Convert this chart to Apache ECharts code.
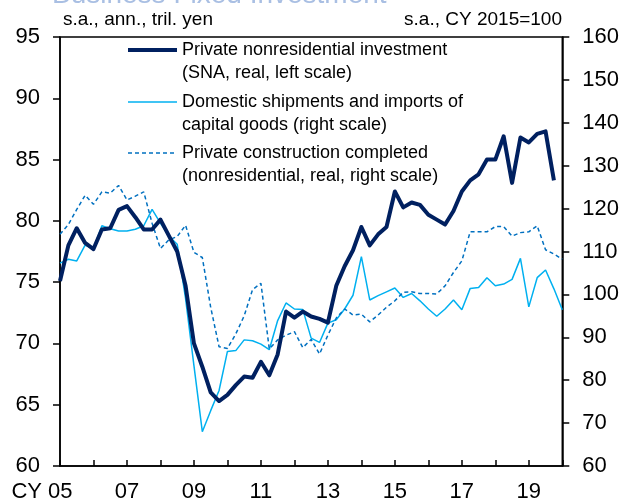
<!DOCTYPE html>
<html>
<head>
<meta charset="utf-8">
<script src="https://cdn.jsdelivr.net/npm/echarts@6/dist/echarts.min.js"></script>
<style>
html,body{margin:0;padding:0;background:#fff;}
#chart{width:622px;height:503px;}
</style>
</head>
<body>
<div id="chart"></div>
<script>
// Quarterly categories, 2005Q1 .. 2020Q1
const quarters = [
  '2005Q1','2005Q2','2005Q3','2005Q4',
  '2006Q1','2006Q2','2006Q3','2006Q4',
  '2007Q1','2007Q2','2007Q3','2007Q4',
  '2008Q1','2008Q2','2008Q3','2008Q4',
  '2009Q1','2009Q2','2009Q3','2009Q4',
  '2010Q1','2010Q2','2010Q3','2010Q4',
  '2011Q1','2011Q2','2011Q3','2011Q4',
  '2012Q1','2012Q2','2012Q3','2012Q4',
  '2013Q1','2013Q2','2013Q3','2013Q4',
  '2014Q1','2014Q2','2014Q3','2014Q4',
  '2015Q1','2015Q2','2015Q3','2015Q4',
  '2016Q1','2016Q2','2016Q3','2016Q4',
  '2017Q1','2017Q2','2017Q3','2017Q4',
  '2018Q1','2018Q2','2018Q3','2018Q4',
  '2019Q1','2019Q2','2019Q3','2019Q4',
  '2020Q1'
];

// Tick labels shown every 8 quarters (every 2 years)
const xTickLabels = ['CY 05','07','09','11','13','15','17','19'];

// Private nonresidential investment (SNA, real, left scale), tril. yen
const nonresInvestment = [
  75.1, 78.0, 79.4, 78.2,
  77.7, 79.3, 79.4, 80.9,
  81.2, 80.3, 79.3, 79.3,
  80.1, 78.8, 77.5, 74.7,
  70.0, 68.1, 66.0, 65.3,
  65.8, 66.6, 67.3, 67.2,
  68.5, 67.4, 69.1, 72.6,
  72.1, 72.6, 72.2, 72.0,
  71.7, 74.7, 76.3, 77.6,
  79.5, 78.0, 78.9, 79.5,
  82.4, 81.1, 81.5, 81.3,
  80.5, 80.1, 79.7, 80.8,
  82.4, 83.3, 83.8, 85.0,
  85.0, 86.9, 83.1, 86.8,
  86.4, 87.1, 87.3, 83.3
];

// Domestic shipments and imports of capital goods (right scale), CY2015=100
const capitalGoods = [
  107.3, 108.2, 107.8, 111.5,
  110.7, 116.0, 115.3, 114.8,
  114.8, 115.2, 116.0, 119.8,
  116.6, 113.6, 111.7, 99.0,
  83.4, 68.0, 72.9, 77.6,
  86.7, 86.9, 89.4, 89.2,
  88.4, 87.1, 93.9, 98.0,
  96.6, 96.5, 89.8, 88.8,
  93.3, 94.1, 96.6, 99.8,
  108.8, 98.7, 99.7, 100.6,
  101.5, 99.3, 100.2, 98.5,
  96.6, 94.9, 96.6, 98.7,
  96.4, 101.4, 101.6, 103.9,
  102.0, 102.4, 103.5, 108.4,
  97.1, 103.9, 105.7, 101.3,
  96.4
];

// Private construction completed (nonresidential, real, right scale), CY2015=100
const construction = [
  114.0, 116.3, 119.8, 123.1,
  121.0, 123.9, 123.6, 125.4,
  122.0, 122.9, 123.9, 116.6,
  110.7, 112.7, 113.5, 116.1,
  109.8, 108.6, 97.0, 87.8,
  87.4, 90.8, 95.0, 101.1,
  102.6, 87.3, 89.4, 90.5,
  91.3, 87.6, 89.5, 86.1,
  90.5, 94.5, 96.6, 95.2,
  95.4, 93.6, 95.2, 97.0,
  98.5, 100.5, 100.6, 100.2,
  100.2, 100.1, 102.0, 105.1,
  107.8, 114.6, 114.6, 114.6,
  115.8, 115.8, 113.6, 114.4,
  114.6, 116.0, 110.4, 109.4,
  108.2
];

const legendLines = [
  ['Private nonresidential investment', '(SNA, real, left scale)'],
  ['Domestic shipments and imports of', 'capital goods (right scale)'],
  ['Private construction completed', '(nonresidential, real, right scale)']
];

const FONT = '"Liberation Sans", Arial, sans-serif';
const C_DARK = '#002060';
const C_LIGHT = '#00B0F0';
const C_DASH = '#0070C0';

const chart = echarts.init(document.getElementById('chart'), null, {renderer: 'canvas'});

const legendGraphic = [];
const legendY = [50, 102, 153];
const legendStyles = [
  {stroke: C_DARK, lineWidth: 4},
  {stroke: C_LIGHT, lineWidth: 1.5},
  {stroke: C_DASH, lineWidth: 1.5, lineDash: [4, 3]}
];
legendY.forEach(function (y, k) {
  legendGraphic.push({
    type: 'line',
    shape: {x1: 128, y1: y, x2: 177, y2: y},
    style: legendStyles[k],
    z: 100
  });
  legendGraphic.push({
    type: 'text',
    x: 182, y: y,
    style: {text: legendLines[k][0], fontSize: 18, fontFamily: FONT, fill: '#000', verticalAlign: 'middle', align: 'left'},
    z: 100
  });
  legendGraphic.push({
    type: 'text',
    x: 182, y: y + 23,
    style: {text: legendLines[k][1], fontSize: 18, fontFamily: FONT, fill: '#000', verticalAlign: 'middle', align: 'left'},
    z: 100
  });
});

const option = {
  animation: false,
  backgroundColor: '#fff',
  grid: {left: 60, right: 59, top: 37, bottom: 36, show: true, borderColor: '#000', borderWidth: 1.5, backgroundColor: 'transparent'},
  graphic: [
    {type: 'text', x: 52, y: -5, style: {text: 'Business Fixed Investment', fontSize: 28, fontFamily: FONT, fill: '#a9bfe3', verticalAlign: 'middle'}},
    {type: 'text', x: 63, y: 20, style: {text: 's.a., ann., tril. yen', fontSize: 19, fontFamily: FONT, fill: '#000', verticalAlign: 'middle', align: 'left'}},
    {type: 'text', x: 562, y: 20, style: {text: 's.a., CY 2015=100', fontSize: 19, fontFamily: FONT, fill: '#000', verticalAlign: 'middle', align: 'right'}}
  ].concat(legendGraphic),
  xAxis: {
    type: 'category',
    data: quarters,
    boundaryGap: false,
    axisLine: {lineStyle: {color: '#000', width: 1.5}},
    axisTick: {inside: true, length: 6, interval: 3, lineStyle: {color: '#000', width: 1.5}},
    axisLabel: {
      interval: 7,
      margin: 15,
      fontSize: 22,
      fontFamily: FONT,
      color: '#000',
      formatter: function (v, idx) {
        const lbl = xTickLabels[Math.round(idx / 8)];
        return idx === 0 ? '{f|' + lbl + '}' : lbl;
      },
      rich: {f: {fontSize: 22, fontFamily: FONT, color: '#000', padding: [0, 36, 0, 0]}}
    },
    splitLine: {show: false}
  },
  yAxis: [
    {
      type: 'value', min: 60, max: 95, interval: 5, position: 'left',
      axisLine: {show: true, lineStyle: {color: '#000', width: 1.5}},
      axisTick: {show: true, inside: false, length: 7, lineStyle: {color: '#000', width: 1.5}},
      axisLabel: {margin: 20, fontSize: 22, fontFamily: FONT, color: '#000'},
      splitLine: {show: false}
    },
    {
      type: 'value', min: 60, max: 160, interval: 10, position: 'right',
      axisLine: {show: true, lineStyle: {color: '#000', width: 1.5}},
      axisTick: {show: true, inside: false, length: 7, lineStyle: {color: '#000', width: 1.5}},
      axisLabel: {margin: 20, fontSize: 22, fontFamily: FONT, color: '#000'},
      splitLine: {show: false}
    }
  ],
  series: [
    {name: 'Private nonresidential investment', type: 'line', yAxisIndex: 0, data: nonresInvestment,
      showSymbol: false, symbol: 'none', lineStyle: {color: C_DARK, width: 4, join: 'round'}, z: 3},
    {name: 'Domestic shipments and imports of capital goods', type: 'line', yAxisIndex: 1, data: capitalGoods,
      showSymbol: false, symbol: 'none', lineStyle: {color: C_LIGHT, width: 1.5}, z: 2},
    {name: 'Private construction completed', type: 'line', yAxisIndex: 1, data: construction,
      showSymbol: false, symbol: 'none', lineStyle: {color: C_DASH, width: 1.5, type: [4, 3]}, z: 2}
  ]
};
chart.setOption(option);
</script>
</body>
</html>
